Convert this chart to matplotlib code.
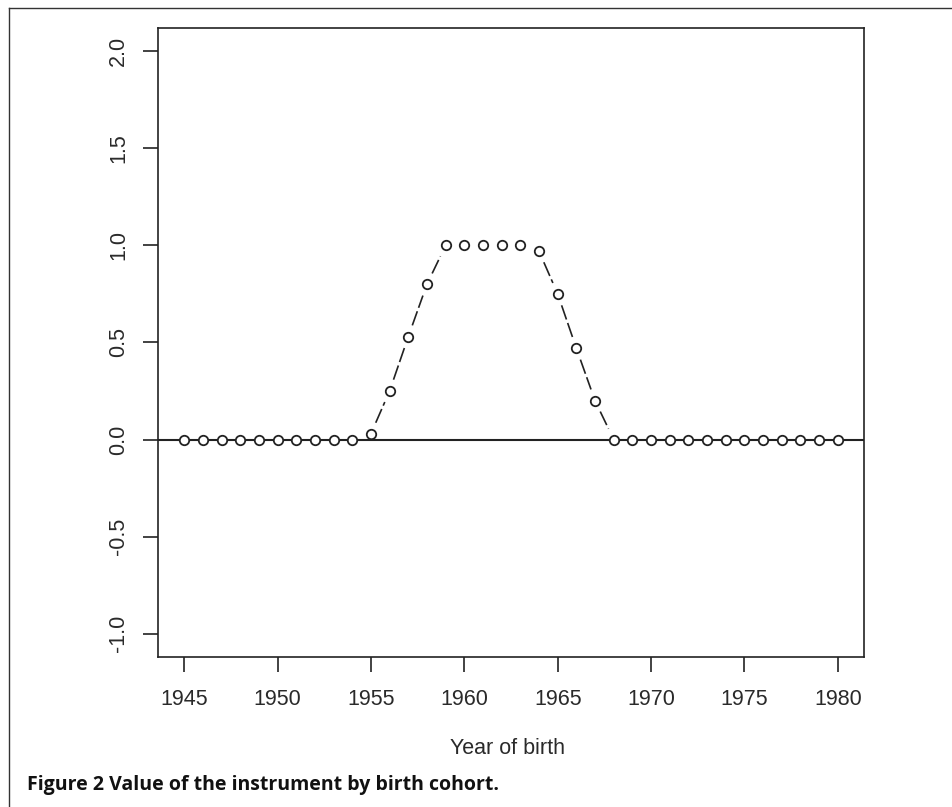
import numpy as np
import matplotlib.pyplot as plt
from matplotlib.lines import Line2D

plt.switch_backend("Agg")

years = list(range(1945, 1981))
values = [0, 0, 0, 0, 0, 0, 0, 0, 0, 0,
          0.03, 0.25, 0.53, 0.80, 1.0, 1.0, 1.0, 1.0, 1.0,
          0.97, 0.75, 0.47, 0.20,
          0, 0, 0, 0, 0, 0, 0, 0, 0, 0, 0, 0, 0]
xticks = [1945, 1950, 1955, 1960, 1965, 1970, 1975, 1980]
yticks = [-1.0, -0.5, 0.0, 0.5, 1.0, 1.5, 2.0]
ink = "#222222"

fig = plt.figure(figsize=(9.53, 8.07), dpi=100)
ax = fig.add_axes([158 / 953, 1 - 657 / 807, (864 - 158) / 953, (657 - 28) / 807])
ax.set_xlim(1943.6, 1981.4)
ax.set_ylim(-1.12, 2.12)

ax.axhline(0, color=ink, lw=1.5, zorder=1)

# R type="b": segments between points, cut back around each circle
fig.canvas.draw()
gap = 12.0  # px from point centre
pts = ax.transData.transform(np.column_stack([years, values]))
inv = ax.transData.inverted()
for p, q in zip(pts[:-1], pts[1:]):
    d = q - p
    L = np.hypot(*d)
    if L <= 2 * gap:
        continue
    u = d / L
    a, b = inv.transform([p + u * gap, q - u * gap])
    ax.plot([a[0], b[0]], [a[1], b[1]], color=ink, lw=1.2,
            linestyle=(0, (9, 2.2)), solid_capstyle="butt", zorder=2)

ax.plot(years, values, linestyle="none", marker="o", markersize=6.8,
        markerfacecolor="white", markeredgecolor=ink, markeredgewidth=1.3, zorder=3)

ax.set_xticks(xticks)
ax.set_yticks(yticks)
ax.set_xticklabels([str(t) for t in xticks])
ax.set_yticklabels([f"{t:.1f}" for t in yticks], rotation=90, va="center")
for lab in ax.get_xticklabels() + ax.get_yticklabels():
    lab.set_family("Liberation Sans")
    lab.set_fontsize(15.5)
    lab.set_color("#2a2a2a")
ax.tick_params(axis="x", length=10.8, width=1.2, color=ink, pad=12)
ax.tick_params(axis="y", length=10.8, width=1.2, color=ink, pad=10)
for s in ax.spines.values():
    s.set_color(ink)
    s.set_linewidth(1.2)

fig.text(508 / 953, 1 - 749 / 807, "Year of birth", ha="center", va="center",
         family="Liberation Sans", fontsize=15.5, color="#2a2a2a")

fig.text(27 / 953, 1 - 790 / 807, "Figure 2 Value of the instrument by birth cohort.",
         ha="left", va="baseline", family="Open Sans", fontweight="bold",
         fontsize=14, color="#111111")

# page frame (top and left rules)
fig.add_artist(Line2D([9 / 953, 1], [1 - 8 / 807, 1 - 8 / 807],
                      transform=fig.transFigure, color="#333333", lw=1.0))
fig.add_artist(Line2D([9 / 953, 9 / 953], [0, 1 - 8 / 807],
                      transform=fig.transFigure, color="#333333", lw=1.0))

fig.savefig("out.png", dpi=100)
